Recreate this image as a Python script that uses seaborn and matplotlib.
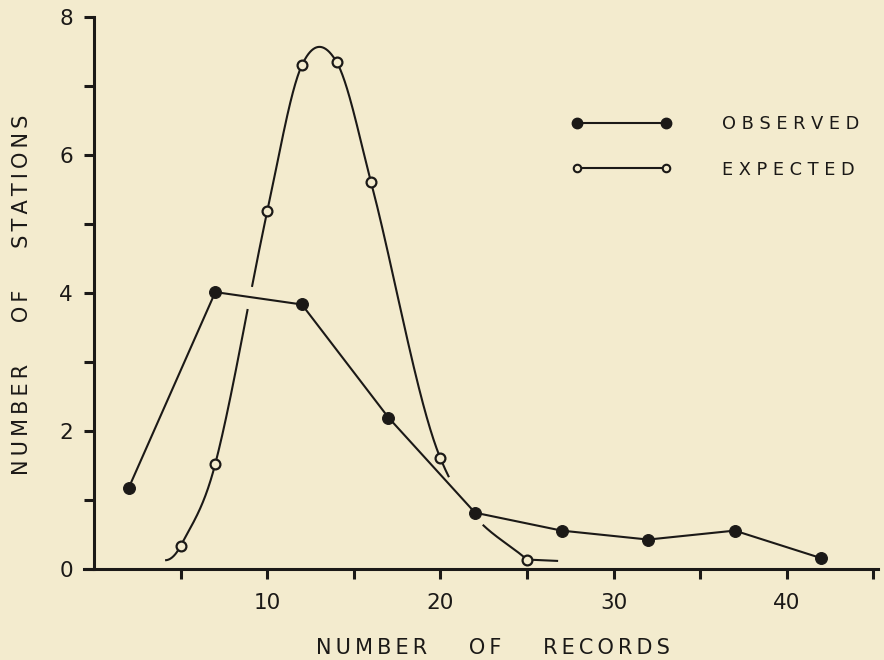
import numpy as np
import matplotlib
matplotlib.use("Agg")
import matplotlib.pyplot as plt
import seaborn as sns
from matplotlib.lines import Line2D

# ---------------- data ----------------
obs_x = [2, 7, 12, 17, 22, 27, 32, 37, 42]
obs_y = [1.17, 4.01, 3.83, 2.19, 0.81, 0.55, 0.42, 0.55, 0.15]

exp_x = [5, 7, 10, 12, 14, 16, 20, 25]
exp_y = [0.33, 1.52, 5.18, 7.30, 7.35, 5.60, 1.60, 0.13]

# hand-drawn curve ends (no markers) of the expected curve
exp_start = (4.1, 0.12)
exp_end = (26.8, 0.11)

# gaps in the hand-drawn expected curve where it crosses the observed line
gap_x_range = (20.5, 22.44)
gap_y_band = (3.77, 4.08)

x_major = [10, 20, 30, 40]
x_minor = [5, 15, 25, 35, 45]
y_major = [0, 2, 4, 6, 8]
y_minor = [1, 3, 5, 7]

xlabel = "NUMBER OF RECORDS"
ylabel = "NUMBER OF STATIONS"
labels = ["OBSERVED", "EXPECTED"]

# ---------------- style ----------------
BG = "#F3EBCE"
INK = "#1b1917"

sns.set_theme(style="ticks")
plt.rcParams["font.family"] = ["DejaVu Sans"]
plt.rcParams["text.color"] = INK
plt.rcParams["axes.labelcolor"] = INK
plt.rcParams["xtick.color"] = INK
plt.rcParams["ytick.color"] = INK


def spaced(text, gap, word_gap):
    return word_gap.join(gap.join(w) for w in text.split(" "))


def hermite(xk, yk, xs):
    xk = np.asarray(xk, float)
    yk = np.asarray(yk, float)
    m = np.zeros_like(yk)
    m[1:-1] = (yk[2:] - yk[:-2]) / (xk[2:] - xk[:-2])
    idx = np.clip(np.searchsorted(xk, xs, side="right") - 1, 0, len(xk) - 2)
    h = xk[idx + 1] - xk[idx]
    t = (xs - xk[idx]) / h
    h00 = 2 * t**3 - 3 * t**2 + 1
    h10 = t**3 - 2 * t**2 + t
    h01 = -2 * t**3 + 3 * t**2
    h11 = t**3 - t**2
    return h00 * yk[idx] + h10 * h * m[idx] + h01 * yk[idx + 1] + h11 * h * m[idx + 1]


fig = plt.figure(figsize=(8.84, 6.6), dpi=100, facecolor=BG)
ax = fig.add_axes([0.0947, 0.1386, 0.899, 0.8565])
ax.set_facecolor(BG)
ax.set_xlim(-0.6, 45.3)
ax.set_ylim(0, 8.2)

# smooth expected curve through its points; straight short tail after the last point
knot_x = [exp_start[0]] + exp_x + [exp_end[0]]
knot_y = [exp_start[1]] + exp_y + [exp_end[1]]
xs = np.linspace(knot_x[0], knot_x[-1], 1200)
ys = hermite(knot_x, knot_y, xs)
tail = xs > exp_x[-1]
ys[tail] = np.interp(xs[tail], [exp_x[-1], exp_end[0]], [exp_y[-1], exp_end[1]])
ys[(xs > gap_x_range[0]) & (xs < gap_x_range[1])] = np.nan
ys[(xs < 12) & (ys > gap_y_band[0]) & (ys < gap_y_band[1])] = np.nan
ax.plot(xs, ys, color=INK, lw=1.5, zorder=2, solid_capstyle="butt")

# observed: straight segments with filled dots
sns.lineplot(x=obs_x, y=obs_y, ax=ax, color=INK, lw=1.5, marker="o",
             markersize=8.5, markeredgecolor=INK, markeredgewidth=0.8,
             estimator=None, sort=False, zorder=3)

# expected: open circles
sns.scatterplot(x=exp_x, y=exp_y, ax=ax, s=50, facecolor=BG, edgecolor=INK,
                linewidth=1.6, zorder=4)

# axes
for s in ["top", "right"]:
    ax.spines[s].set_visible(False)
ax.spines["left"].set_position(("data", 0))
ax.spines["left"].set_bounds(0, 8)
for s in ["left", "bottom"]:
    ax.spines[s].set_linewidth(2.2)
    ax.spines[s].set_color(INK)

ax.set_xticks(x_major)
ax.set_xticks(x_minor, minor=True)
ax.set_yticks(y_major)
ax.set_yticks(y_minor, minor=True)
ax.tick_params(which="both", direction="out", length=7.5, width=2.2, color=INK)
ax.tick_params(axis="x", which="major", labelsize=15.5, pad=10.4)
ax.tick_params(axis="y", which="major", labelsize=15.5, pad=7.6)

ax.set_xlabel(spaced(xlabel, "\u2009", "\u2003\u2003"), fontsize=15)
ax.set_ylabel(spaced(ylabel, "\u2009", "\u2003\u2003"), fontsize=15)
ax.xaxis.set_label_coords(0.5155, -0.1228)
ax.yaxis.set_label_coords(-0.0652, 0.4847)

h_obs = Line2D([], [], color=INK, lw=1.5, marker="o", markersize=7.5,
               markerfacecolor=INK, markeredgecolor=INK)
h_exp = Line2D([], [], color=INK, lw=1.5, marker="o", markersize=5.4,
               markerfacecolor=BG, markeredgecolor=INK, markeredgewidth=1.5)
ax.legend(handles=[h_obs, h_exp],
          labels=[spaced(l, " ", "  ") for l in labels],
          loc="center left", bbox_to_anchor=(0.6136, 0.7459),
          frameon=False, fontsize=12.8, numpoints=2, handlelength=5.6,
          handletextpad=2.85, labelspacing=1.55, borderpad=0,
          borderaxespad=0)

fig.savefig("out.png", dpi=100, facecolor=BG)
